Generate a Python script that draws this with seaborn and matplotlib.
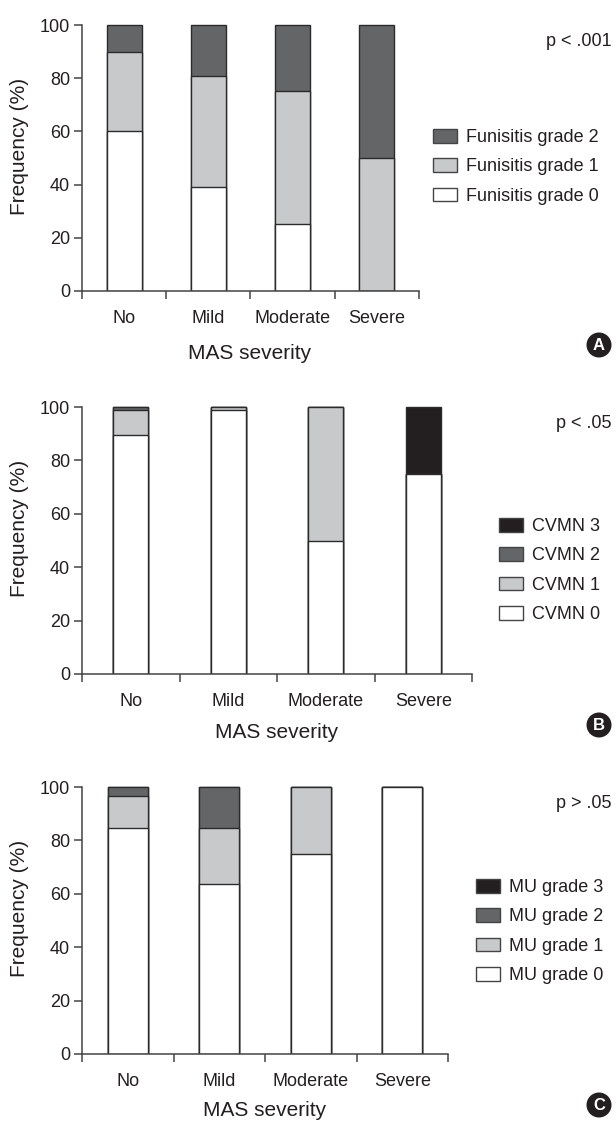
import numpy as np
import matplotlib
matplotlib.use('Agg')
import matplotlib.pyplot as plt
from matplotlib.patches import Patch, Ellipse
import seaborn as sns

sns.set_style('ticks')
plt.rcParams['font.family'] = ['Liberation Sans', 'DejaVu Sans']

# categories
severity = ['No', 'Mild', 'Moderate', 'Severe']

# A - funisitis (%)
funisitis_labels = ['Funisitis grade 0', 'Funisitis grade 1', 'Funisitis grade 2']
funisitis_0 = [60, 39, 25, 0]
funisitis_1 = [30, 42, 50, 50]
funisitis_2 = [10, 19, 25, 50]

# B - CVMN (%)
cvmn_labels = ['CVMN 0', 'CVMN 1', 'CVMN 2', 'CVMN 3']
cvmn_0 = [89.6, 98.7, 50, 75]
cvmn_1 = [9.1, 1.3, 50, 0]
cvmn_2 = [1.3, 0, 0, 0]
cvmn_3 = [0, 0, 0, 25]

# C - MU (%)
mu_labels = ['MU grade 0', 'MU grade 1', 'MU grade 2', 'MU grade 3']
mu_0 = [84.5, 63.5, 75, 100]
mu_1 = [12, 21, 25, 0]
mu_2 = [3.5, 15.5, 0, 0]
mu_3 = [0, 0, 0, 0]

p_values = ['p < .001', 'p < .05', 'p > .05']
panel_letters = ['A', 'B', 'C']

grade_colors = ['#ffffff', '#c8c9cb', '#646567', '#231f20']
edge = '#2b2b2b'
txt = '#231f20'

W, H = 616, 1122
fig = plt.figure(figsize=(W / 100, H / 100), dpi=100)


def fx(x):
    return x / W


def fy(y):
    return 1 - y / H


def panel(left, right, top, zero, layers, labels, bar_w, leg_x, leg_top, p_text, p_y, letter, letter_y, xlab_y):
    h = (zero - top) * 1.005
    ax = fig.add_axes([fx(left), fy(zero), (right - left) / W, h / H])
    cum = np.cumsum(np.array(layers, dtype=float), axis=0)
    # stacked bars: draw the cumulative totals from the top layer down
    for k in range(len(layers) - 1, -1, -1):
        sns.barplot(x=severity, y=cum[k], color=grade_colors[k], saturation=1,
                    width=bar_w, edgecolor=edge, linewidth=1, errorbar=None, ax=ax)
    ax.set_xlim(-0.5, 3.5)
    ax.set_ylim(0, 100.5)
    ax.set_yticks(range(0, 101, 20))
    ax.set_xticks(range(4))
    ax.set_xticklabels(severity)
    ax.set_xticks(np.arange(-0.5, 4, 1), minor=True)
    ax.tick_params(axis='x', which='major', length=0, pad=14, labelsize=13, labelcolor=txt)
    ax.tick_params(axis='x', which='minor', length=5.5, width=1.1, color='#444444')
    ax.tick_params(axis='y', length=5.5, width=1.1, color='#444444', labelsize=13, labelcolor=txt, pad=3)
    sns.despine(ax=ax)
    ax.spines['left'].set_bounds(0, 100)
    for s in ['left', 'bottom']:
        ax.spines[s].set_color('#444444')
        ax.spines[s].set_linewidth(1.1)
    ax.set_xlabel('')
    ax.set_ylabel('')
    fig.text(fx(250 if right < 430 else (left + right) / 2), fy(xlab_y), 'MAS severity',
             ha='center', va='center', fontsize=15, color=txt)
    fig.text(fx(20), fy((top + zero) / 2 - 12), 'Frequency (%)', rotation=90,
             ha='center', va='center', fontsize=15, color=txt)

    handles = [Patch(facecolor=grade_colors[k], edgecolor='#444444', linewidth=1, label=labels[k])
               for k in range(len(labels) - 1, -1, -1)]
    ax.legend(handles=handles, loc='upper left', bbox_to_anchor=(fx(leg_x), fy(leg_top)),
              bbox_transform=fig.transFigure, frameon=False, fontsize=13, borderpad=0,
              borderaxespad=0, handlelength=1.33, handleheight=0.78, handletextpad=0.5,
              labelspacing=0.68, labelcolor=txt)

    fig.text(fx(612), fy(p_y), p_text, ha='right', va='center', fontsize=13, color=txt)
    # round black badge with the panel letter
    badge = Ellipse((fx(599), fy(letter_y)), 25 / W, 25 / H, transform=fig.transFigure,
                    facecolor=txt, edgecolor='none', zorder=5)
    fig.patches.append(badge)
    fig.text(fx(599), fy(letter_y), letter, ha='center', va='center', fontsize=12,
             fontweight='bold', color='white', zorder=6)
    return ax


panel(82, 419, 25, 291, [funisitis_0, funisitis_1, funisitis_2], funisitis_labels, 0.415,
      433, 129, p_values[0], 42, panel_letters[0], 345, 353)
panel(82, 472, 407, 674, [cvmn_0, cvmn_1, cvmn_2, cvmn_3], cvmn_labels, 0.36,
      499, 518, p_values[1], 423, panel_letters[1], 725, 733)
panel(82, 448, 787, 1054, [mu_0, mu_1, mu_2, mu_3], mu_labels, 0.44,
      476, 879, p_values[2], 804, panel_letters[2], 1105, 1110)

fig.savefig('out.png', dpi=100)
